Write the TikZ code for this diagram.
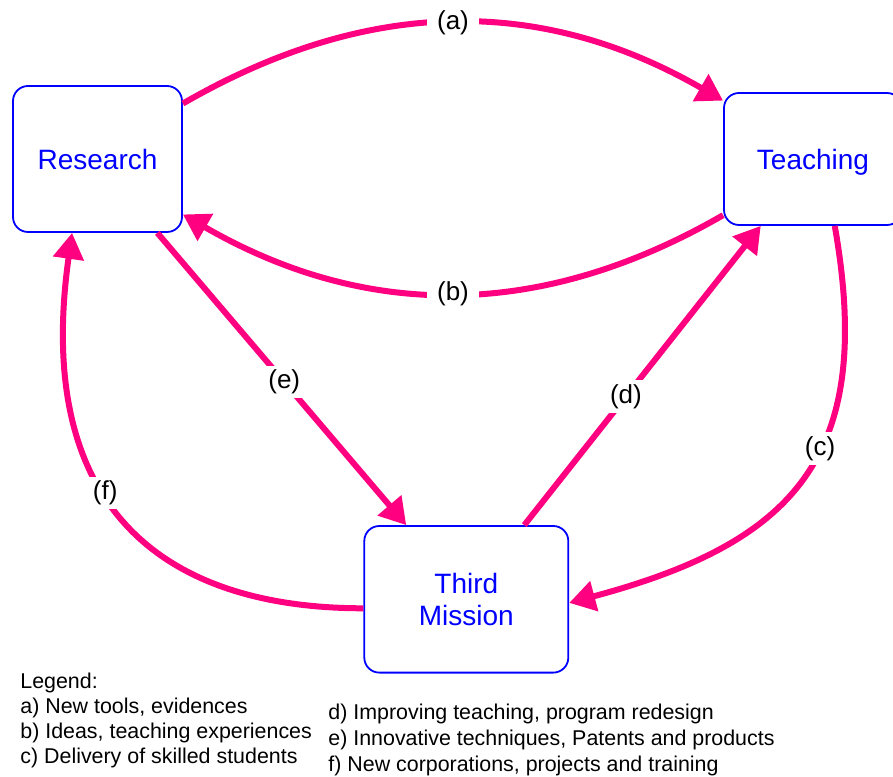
\documentclass[tikz,border=0pt]{standalone}
\usepackage{fontspec}
\setmainfont{Liberation Sans}
\usepackage{xcolor}
\usepackage{tikz}
\usetikzlibrary{arrows.meta, positioning}
\definecolor{hong}{RGB}{255,0,128}
\definecolor{xanh}{RGB}{0,0,255}

\begin{document}
\begin{tikzpicture}[x=0.5pt, y=0.5pt,
    >={Triangle[length=13pt, width=15pt]},
    khoi/.style={draw=xanh, line width=0.9pt, rounded corners=7.5pt, text=xanh,
        align=center, font=\fontsize{14}{16}\selectfont},
    muiten/.style={->, draw=hong, line width=3pt},
    nhan/.style={fill=white, inner xsep=5pt, inner ysep=2pt, font=\fontsize{13}{15}\selectfont},
    chuthich/.style={anchor=base west, inner sep=0pt, font=\fontsize{10.7}{12}\selectfont}]
    \useasboundingbox (0,0) rectangle (893,776);

    % Các khối
    \node[khoi, minimum width=84.5pt, minimum height=73pt] (research) at (97.5,617) {Research};
    \node[khoi, minimum width=89pt, minimum height=66pt, text depth=0pt] (teaching) at (813,617) {Teaching};
    \node[khoi, minimum width=102pt, minimum height=73.3pt] (third) at (466.3,176.7) {Third\\Mission};

    % Các mũi tên
    \draw[muiten] (research.33.5) to[out=30, in=150] node[nhan, midway] {(a)} (teaching.147.4);
    \draw[muiten] (teaching.212.2) to[out=210, in=-30] node[nhan, midway] {(b)} (research.327.9);
    \draw[muiten] (teaching.288.4) to[out=-80, in=15, looseness=1.3] node[nhan, pos=0.42] {(c)} (third.358);
    \draw[muiten] (third.52.2) -- node[nhan, pos=0.43] {(d)} (teaching.232.3);
    \draw[muiten] (research.309.6) -- node[nhan, pos=0.51] {(e)} (third.129.2);
    \draw[muiten] (third.185) to[out=180, in=-98, out looseness=1.08, in looseness=1.5]
        node[nhan, pos=0.58] {(f)} (research.251.4);

    % Chú thích
    \node[chuthich] (legend) at (20,88) {Legend:};
    \foreach \t [count=\i] in {{a) New tools, evidences}, {b) Ideas, teaching experiences},
        {c) Delivery of skilled students}}
        \node[chuthich] (trai\i) at (20,{88-25*\i}) {\t};
    \foreach \t [count=\i] in {{d) Improving teaching, program redesign},
        {e) Innovative techniques, Patents and products}, {f) New corporations, projects and training}}
        \node[chuthich] (phai\i) at (328,{83-26*\i}) {\t};
\end{tikzpicture}
\end{document}
